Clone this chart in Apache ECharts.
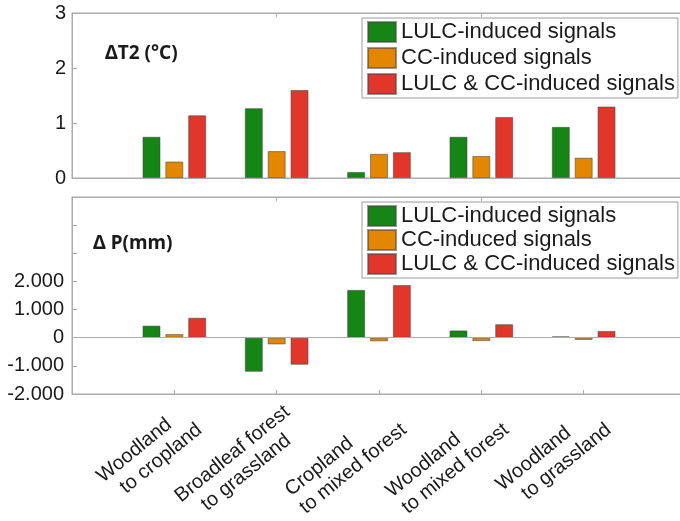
<!DOCTYPE html>
<html>
<head>
<meta charset="utf-8">
<script src="https://cdn.jsdelivr.net/npm/echarts@6/dist/echarts.min.js"></script>
<style>
  html, body { margin: 0; padding: 0; background: #fff; }
  #chart { width: 680px; height: 521px; }
</style>
</head>
<body>
<div id="chart"></div>
<script>
// Land-use transitions along the category axis
const categories = [
  'Woodland\nto cropland',
  'Broadleaf forest\nto grassland',
  'Cropland\nto mixed forest',
  'Woodland\nto mixed forest',
  'Woodland\nto grassland'
];
const seriesNames = ['LULC-induced signals', 'CC-induced signals', 'LULC & CC-induced signals'];

// 2 m temperature change (°C)
const t2Lulc = [0.75, 1.27, 0.11, 0.75, 0.93];
const t2Cc   = [0.30, 0.49, 0.44, 0.40, 0.37];
const t2Both = [1.14, 1.60, 0.47, 1.11, 1.30];

// Precipitation change (mm)
const pLulc = [0.43, -1.21, 1.70, 0.26, 0.05];
const pCc   = [0.13, -0.24, -0.13, -0.12, -0.08];
const pBoth = [0.71, -0.96, 1.87, 0.48, 0.24];

// Tick labels
const t2TickValues = [0, 1, 2, 3];
const t2TickLabels = ['0', '1', '2', '3'];
const pTickValues = [-2, -1, 0, 1, 2, 3, 4, 5];
const pTickLabels = ['-2.000', '-1.000', '0', '1.000', '2.000', '', '', ''];

// Styling
const colors = ['#158515', '#e38600', '#e2362a'];
const frame = '#ababab';
const ink = '#1a1a1a';
const font = 'Liberation Sans';
const catFontSize = 20;
const catLineHeight = 23;
const secondLineIndent = [11, 15, 0, 2, 14]; // px, second line of each rotated category label

// One empty slot at each end so the groups sit on ticks 1..5 of a 0..6 axis
const axisCats = [''].concat(categories, ['']);
const pad = arr => ['-'].concat(arr, ['-']);

const catRich = { a: { align: 'left', fontFamily: font, fontSize: catFontSize, lineHeight: catLineHeight, color: ink } };
secondLineIndent.forEach((ind, k) => {
  catRich['b' + k] = { align: 'left', fontFamily: font, fontSize: catFontSize, lineHeight: catLineHeight,
                       color: ink, padding: [0, 0, 0, ind] };
});

const chart = echarts.init(document.getElementById('chart'), null, { renderer: 'canvas' });

function catAxis(gridIndex, position, withLabels) {
  return {
    type: 'category', gridIndex, position, data: axisCats, boundaryGap: false,
    axisLine: { show: true, onZero: false, lineStyle: { color: frame, width: 1 } },
    axisTick: { show: true, inside: true, length: 4, lineStyle: { color: frame } },
    axisLabel: withLabels ? {
      show: true, interval: 0, rotate: 39, margin: 39,
      padding: [0, -23, 0, 0],
      color: ink, fontFamily: font, fontSize: catFontSize, lineHeight: catLineHeight,
      formatter: (v, idx) => {
        if (!v) return '';
        const lines = v.split('\n');
        return '{a|' + lines[0] + '}\n{b' + (idx - 1) + '|' + lines[1] + '}';
      },
      rich: catRich
    } : { show: false },
    splitLine: { show: false }
  };
}

function valAxis(gridIndex, position, min, max, values, labels, margin) {
  return {
    type: 'value', gridIndex, position, min, max, interval: 1,
    axisLine: { show: true, lineStyle: { color: frame, width: 1 } },
    axisTick: { show: true, inside: true, length: 5, lineStyle: { color: frame } },
    axisLabel: labels ? {
      show: true, margin, color: ink, fontFamily: font, fontSize: 20,
      formatter: v => { const i = values.indexOf(v); return i >= 0 ? labels[i] : ''; }
    } : { show: false },
    splitLine: { show: false }
  };
}

function barSeries(name, data, color, xi, yi, extra) {
  return Object.assign({
    type: 'bar', name, data: pad(data), xAxisIndex: xi, yAxisIndex: yi,
    barWidth: 18, barGap: '27%',
    itemStyle: { color, borderColor: 'rgba(70,70,70,0.55)', borderWidth: 1 },
    emphasis: { disabled: true }
  }, extra || {});
}

function legendAt(top, gap) {
  return {
    data: seriesNames, orient: 'vertical', left: 362, top,
    icon: 'rect', itemWidth: 28, itemHeight: 20, itemGap: gap,
    padding: [3, 3, 3, 5], borderColor: '#9a9a9a', borderWidth: 1, backgroundColor: '#fff',
    selectedMode: false,
    textStyle: { fontFamily: font, fontSize: 22, lineHeight: 22, color: ink }
  };
}

chart.setOption({
  animation: false,
  backgroundColor: '#fff',
  title: [
    { text: 'ΔT2 (°C)', left: 105, top: 44, padding: 0,
      textStyle: { fontFamily: 'Noto Sans', fontWeight: 'bold', fontSize: 19, color: ink } },
    { text: 'Δ P(mm)', left: 93, top: 234, padding: 0,
      textStyle: { fontFamily: 'Noto Sans', fontWeight: 'bold', fontSize: 19, color: ink } }
  ],
  legend: [legendAt(18, 4), legendAt(202, 2)],
  grid: [
    { left: 72, right: -6, top: 13, height: 165, show: true, borderColor: frame, borderWidth: 1,
      outerBoundsMode: 'none', containLabel: false },
    { left: 72, right: -6, top: 197, height: 197, show: true, borderColor: frame, borderWidth: 1,
      outerBoundsMode: 'none', containLabel: false }
  ],
  xAxis: [
    catAxis(0, 'bottom', false),
    catAxis(0, 'top', false),
    catAxis(1, 'bottom', true),
    catAxis(1, 'top', false)
  ],
  yAxis: [
    valAxis(0, 'left', 0, 3, t2TickValues, t2TickLabels, 6),
    valAxis(0, 'right', 0, 3, null, null, 0),
    valAxis(1, 'left', -2, 5, pTickValues, pTickLabels, 8),
    valAxis(1, 'right', -2, 5, null, null, 0)
  ],
  series: [
    barSeries(seriesNames[0], t2Lulc, colors[0], 0, 0),
    barSeries(seriesNames[1], t2Cc, colors[1], 0, 0),
    barSeries(seriesNames[2], t2Both, colors[2], 0, 0),
    barSeries(seriesNames[0], pLulc, colors[0], 2, 2, {
      markLine: {
        silent: true, symbol: 'none', label: { show: false },
        lineStyle: { color: frame, type: 'solid', width: 1 },
        data: [{ yAxis: 0 }]
      }
    }),
    barSeries(seriesNames[1], pCc, colors[1], 2, 2),
    barSeries(seriesNames[2], pBoth, colors[2], 2, 2)
  ]
});
</script>
</body>
</html>
